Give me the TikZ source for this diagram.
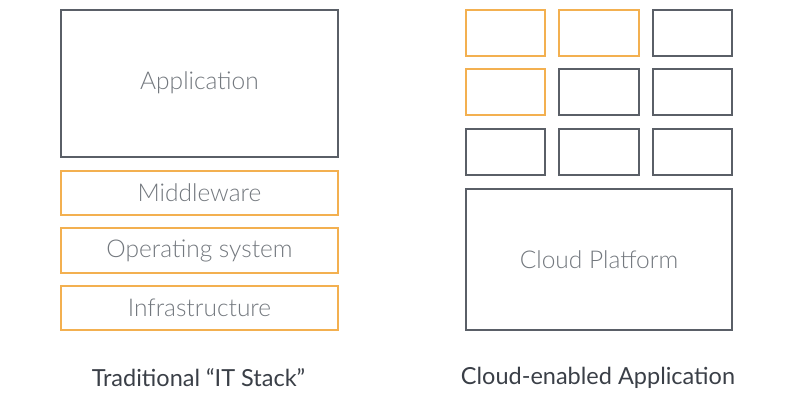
\documentclass[tikz,border=0pt]{standalone}
\usepackage{fontspec}
\setmainfont{Lato}
\newfontfamily\lightfont{Lato Light}
\definecolor{boxgray}{HTML}{5A5F67}
\definecolor{boxorange}{HTML}{F3B050}
\definecolor{lbltext}{HTML}{73787E}
\definecolor{captext}{HTML}{3A3F47}
\begin{document}
\begin{tikzpicture}[x=1pt,y=-1pt,
  graybox/.style={draw=boxgray,line width=2pt,inner sep=0pt,anchor=north west},
  orangebox/.style={draw=boxorange,line width=2pt,inner sep=0pt,anchor=north west},
  lbl/.style={text=lbltext,font=\lightfont\fontsize{24.5}{28}\selectfont},
  captionlbl/.style={text=captext,font=\fontsize{23.5}{28}\selectfont}]
\useasboundingbox (0,0) rectangle (800,400);
% left stack
\node[graybox,minimum width=277pt,minimum height=147pt] (app) at (60,9) {};
\node[lbl] at ([yshift=1pt]app.center) {Application};
\node[orangebox,minimum width=277pt,minimum height=44pt] (mw) at (60,170) {};
\node[lbl] at (mw.center) {Middleware};
\node[orangebox,minimum width=277pt,minimum height=45pt] (os) at (60,227) {};
\node[lbl] at (os.center) {Operating system};
\node[orangebox,minimum width=277pt,minimum height=44pt] (inf) at (60,285) {};
\node[lbl] at (inf.center) {Infrastructure};
% right grid
\node[orangebox,minimum width=79pt,minimum height=46pt] (g11) at (465,9) {};
\node[orangebox,minimum width=80pt,minimum height=46pt] (g12) at (558,9) {};
\node[graybox,minimum width=79pt,minimum height=46pt] (g13) at (652,9) {};
\node[orangebox,minimum width=79pt,minimum height=46pt] (g21) at (465,68) {};
\node[graybox,minimum width=80pt,minimum height=46pt] (g22) at (558,68) {};
\node[graybox,minimum width=79pt,minimum height=46pt] (g23) at (652,68) {};
\node[graybox,minimum width=79pt,minimum height=46pt] (g31) at (465,128) {};
\node[graybox,minimum width=80pt,minimum height=46pt] (g32) at (558,128) {};
\node[graybox,minimum width=79pt,minimum height=46pt] (g33) at (652,128) {};
\node[graybox,minimum width=266pt,minimum height=141pt] (cp) at (465,188) {};
\node[lbl] at (cp.center) {Cloud Platform};
% captions
\node[captionlbl] (c1) at (198.5,378) {Traditional “IT Stack”};
\node[captionlbl] (c2) at (598,378) {Cloud-enabled Application};
\end{tikzpicture}
\end{document}
